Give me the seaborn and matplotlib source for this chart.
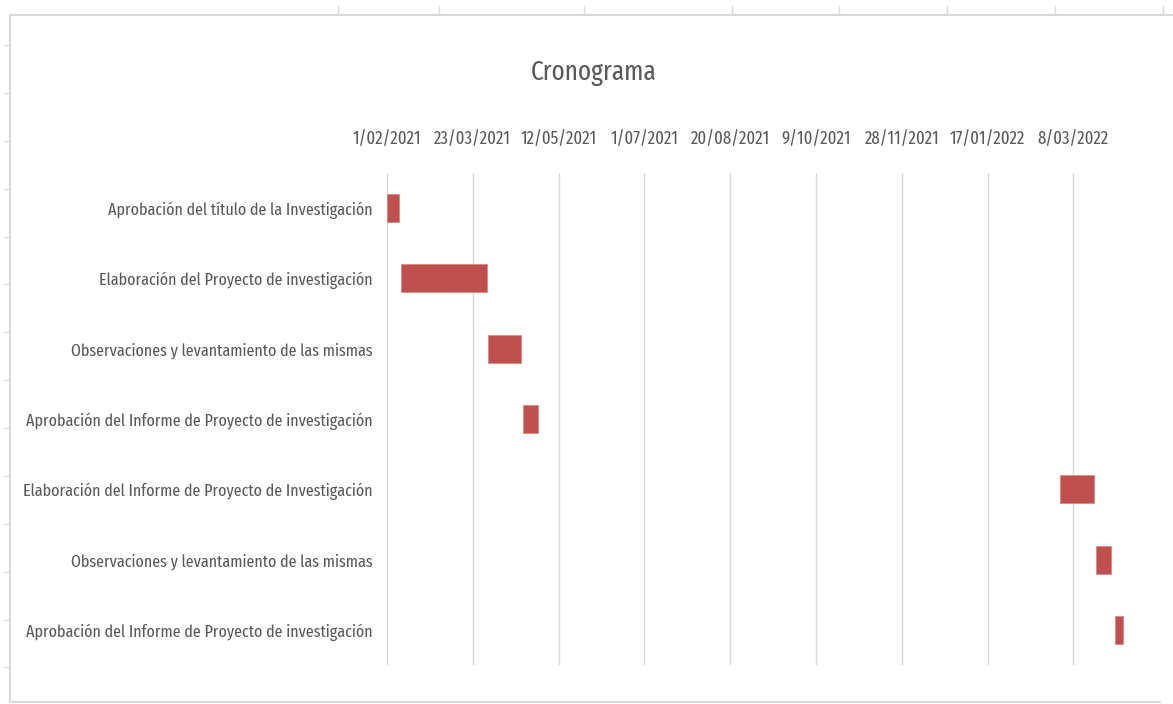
import pandas as pd
import numpy as np
import matplotlib
matplotlib.use("Agg")
import matplotlib.pyplot as plt
import matplotlib.dates as mdates
from matplotlib.lines import Line2D
import seaborn as sns

# Datos del cronograma
tareas = [
    "Aprobación del título de la Investigación",
    "Elaboración del Proyecto de investigación",
    "Observaciones y levantamiento de las mismas",
    "Aprobación del Informe de Proyecto de investigación",
    "Elaboración del Informe de Proyecto de Investigación",
    "Observaciones y levantamiento de las mismas",
    "Aprobación del Informe de Proyecto de investigación",
]
inicios = ["2021-02-01", "2021-02-09", "2021-04-01", "2021-04-21",
           "2022-02-28", "2022-03-21", "2022-04-01"]
duraciones = [7, 50, 19, 9, 20, 9, 5]  # días

eje_inicio = "2021-02-01"
eje_paso = 50  # días entre marcas
eje_fin = "2022-04-17"

sns.set_theme(style="white")
plt.rcParams["font.family"] = ["Fira Sans Extra Condensed", "Open Sans", "DejaVu Sans"]

gris = "#595959"
rojo = "#C0504D"

df = pd.DataFrame({
    "id": [str(i) for i in range(len(tareas))],
    "inicio": mdates.date2num(pd.to_datetime(inicios)),
    "dias": duraciones,
})

fig = plt.figure(figsize=(11.73, 7.04), dpi=100)
ax = fig.add_axes([387 / 1173, 1 - 665 / 704, (1142 - 387) / 1173, (665 - 173) / 704])

sns.barplot(data=df, x="dias", y="id", left=df["inicio"].values, orient="h",
            color=rojo, saturation=1, width=0.4, errorbar=None, ax=ax,
            edgecolor="#d98a88", linewidth=0.6)

marcas = pd.date_range(eje_inicio, periods=9, freq=f"{eje_paso}D")
ax.set_xlim(mdates.date2num(pd.Timestamp(eje_inicio)), mdates.date2num(pd.Timestamp(eje_fin)))
ax.set_xticks(mdates.date2num(marcas))
ax.set_xticklabels([f"{d.day}/{d.month:02d}/{d.year}" for d in marcas])
ax.xaxis.tick_top()
ax.tick_params(axis="x", length=0, pad=18, labelsize=14, labelcolor=gris)
ax.set_yticks(range(len(tareas)))
ax.set_yticklabels(tareas)
ax.tick_params(axis="y", length=0, pad=10, labelsize=14, labelcolor=gris)
ax.set_xlabel("")
ax.set_ylabel("")
ax.grid(axis="x", color="#D9D9D9", linewidth=1)
ax.set_axisbelow(True)
for s in ax.spines.values():
    s.set_visible(False)

titulo = fig.text(594 / 1173, 1 - 73 / 704, "Cronograma", ha="center", va="center",
                  fontsize=22, color=gris)

# ajustar tamaños de letra al ancho que tienen en la imagen original
fig.canvas.draw()
r = fig.canvas.get_renderer()
ancho_y = max(t.get_window_extent(r).width for t in ax.get_yticklabels())
ancho_x = ax.get_xticklabels()[0].get_window_extent(r).width
ancho_t = titulo.get_window_extent(r).width
ax.tick_params(axis="y", labelsize=14 * 350 / ancho_y)
ax.tick_params(axis="x", labelsize=14 * 68 / ancho_x)
titulo.set_fontsize(22 * 126 / ancho_t)

# marco de la hoja de cálculo
borde = "#D9D9D9"
def linea(x0, y0, x1, y1, lw=1.5):
    fig.add_artist(Line2D([x0 / 1173, x1 / 1173], [1 - y0 / 704, 1 - y1 / 704],
                          color=borde, linewidth=lw, transform=fig.transFigure))

linea(10, 15, 1173, 15)
linea(10, 15, 10, 702)
linea(10, 702, 1160, 702)
for yy in [45, 93, 141, 189, 237, 284, 332, 380, 428, 476, 524, 572, 620, 667]:
    linea(4, yy, 10, yy, lw=1)
for xx in [338, 439, 584, 732, 839, 947, 1055, 1163]:
    linea(xx, 6, xx, 15, lw=1)

fig.savefig("out.png", dpi=100)
